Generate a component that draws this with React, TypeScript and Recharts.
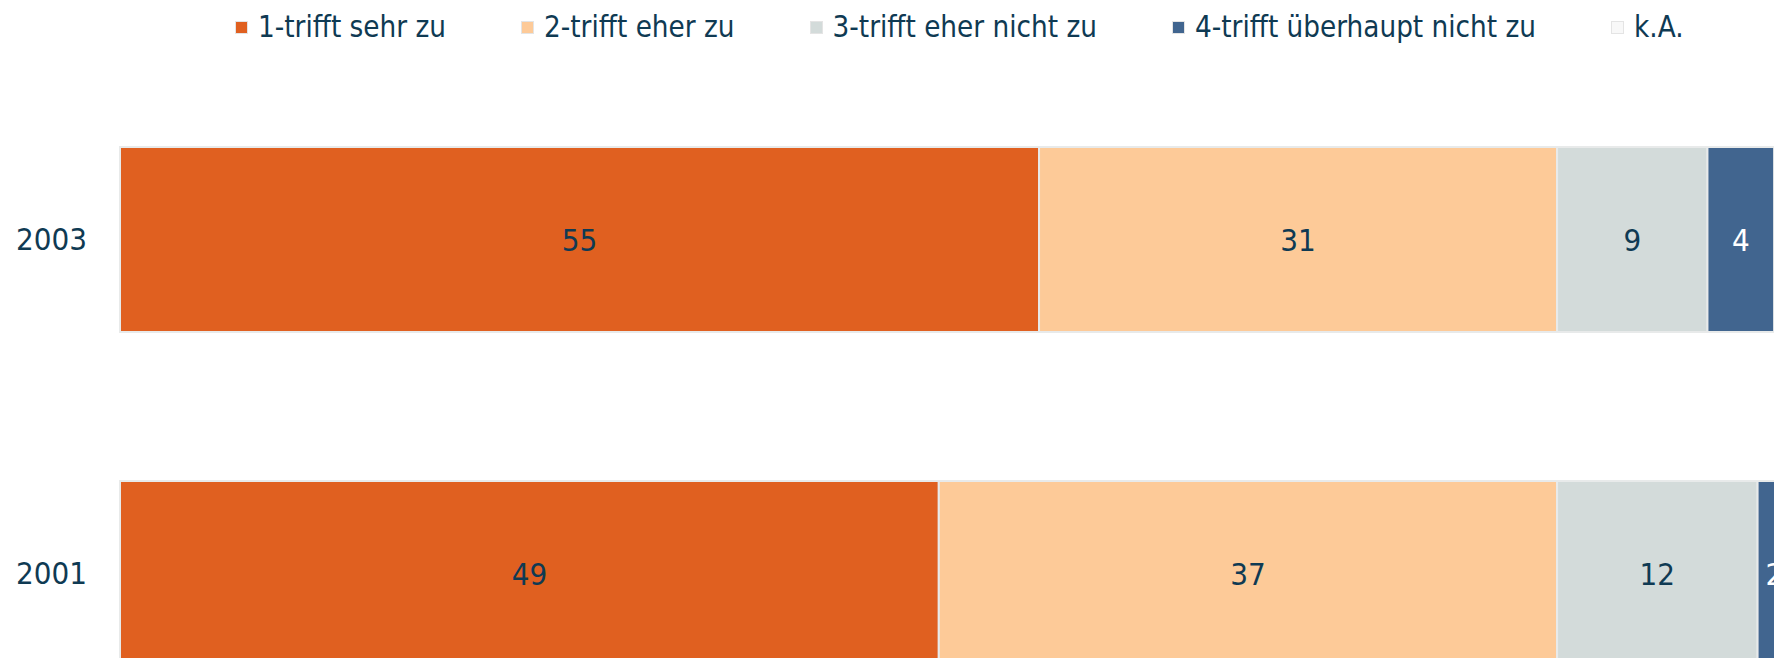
import { Bar, BarChart, LabelList, Legend, XAxis, YAxis } from "recharts"

const years = ["2003", "2001"]
const trifftSehrZu = [55, 49]
const trifftEherZu = [31, 37]
const trifftEherNichtZu = [9, 12]
const trifftUeberhauptNichtZu = [4, 2]
const keineAngabe = [1, 0]

const data = years.map((year, i) => ({
  year,
  s1: trifftSehrZu[i],
  s2: trifftEherZu[i],
  s3: trifftEherNichtZu[i],
  s4: trifftUeberhauptNichtZu[i],
  ka: keineAngabe[i],
}))

const FONT = '"DejaVu Sans Condensed", "DejaVu Sans", sans-serif'
const TEXT = "#0f3a53"
const EDGE = "#e8eaea"

function renderLegend(props: any) {
  const { payload = [] } = props
  return (
    <div
      style={{
        display: "flex",
        alignItems: "center",
        height: 38,
        whiteSpace: "nowrap",
        fontFamily: FONT,
        fontStretch: "condensed",
        fontSize: 29.3,
        color: TEXT,
      }}
    >
      {payload.map((entry: any, i: number) => (
        <div key={entry.value} style={{ display: "flex", alignItems: "center", marginRight: i < payload.length - 1 ? 75 : 0 }}>
          <span
            style={{
              display: "inline-block",
              width: 11,
              height: 11,
              background: entry.color,
              border: "1px solid #e4e4e4",
              marginRight: 10,
            }}
          />
          <span>{entry.value}</span>
        </div>
      ))}
    </div>
  )
}

export default function App() {
  const labelStyle = { fontFamily: FONT, fontStretch: "condensed" as const, fontSize: 31 }
  return (
    // the chart is wider and taller than the window, so it is cut at the edges like the original
    <div style={{ position: "fixed", left: 0, top: 0, width: 1774, height: 658, overflow: "hidden", background: "#fff" }}>
      <div style={{ position: "absolute", left: 8, top: 8 }}>
        <BarChart
          width={1783}
          height={732}
          data={data}
          layout="vertical"
          margin={{ top: 26, right: 0, bottom: 0, left: 0 }}
        >
          <XAxis type="number" domain={[0, 100]} hide />
          <YAxis
            type="category"
            dataKey="year"
            width={112}
            axisLine={false}
            tickLine={false}
            tickSize={0}
            tickMargin={33}
            tick={{ fill: TEXT, fontFamily: FONT, fontStretch: "condensed", fontSize: 31 }}
          />
          <Legend verticalAlign="top" content={renderLegend} wrapperStyle={{ top: 0, left: 227, width: 1500 }} />
          <Bar dataKey="s1" name="1-trifft sehr zu" stackId="a" fill="#e06020" stroke={EDGE} strokeWidth={2} barSize={185} isAnimationActive={false}>
            <LabelList dataKey="s1" position="center" fill={TEXT} style={labelStyle} />
          </Bar>
          <Bar dataKey="s2" name="2-trifft eher zu" stackId="a" fill="#fdca98" stroke={EDGE} strokeWidth={2} barSize={185} isAnimationActive={false}>
            <LabelList dataKey="s2" position="center" fill={TEXT} style={labelStyle} />
          </Bar>
          <Bar dataKey="s3" name="3-trifft eher nicht zu" stackId="a" fill="#d3dbda" stroke={EDGE} strokeWidth={2} barSize={185} isAnimationActive={false}>
            <LabelList dataKey="s3" position="center" fill={TEXT} style={labelStyle} />
          </Bar>
          <Bar dataKey="s4" name="4-trifft überhaupt nicht zu" stackId="a" fill="#41658f" stroke={EDGE} strokeWidth={2} barSize={185} isAnimationActive={false}>
            <LabelList dataKey="s4" position="center" fill="#ffffff" style={labelStyle} />
          </Bar>
          <Bar dataKey="ka" name="k.A." stackId="a" fill="#f8f8f8" stroke={EDGE} strokeWidth={2} barSize={185} isAnimationActive={false} />
        </BarChart>
      </div>
    </div>
  )
}
